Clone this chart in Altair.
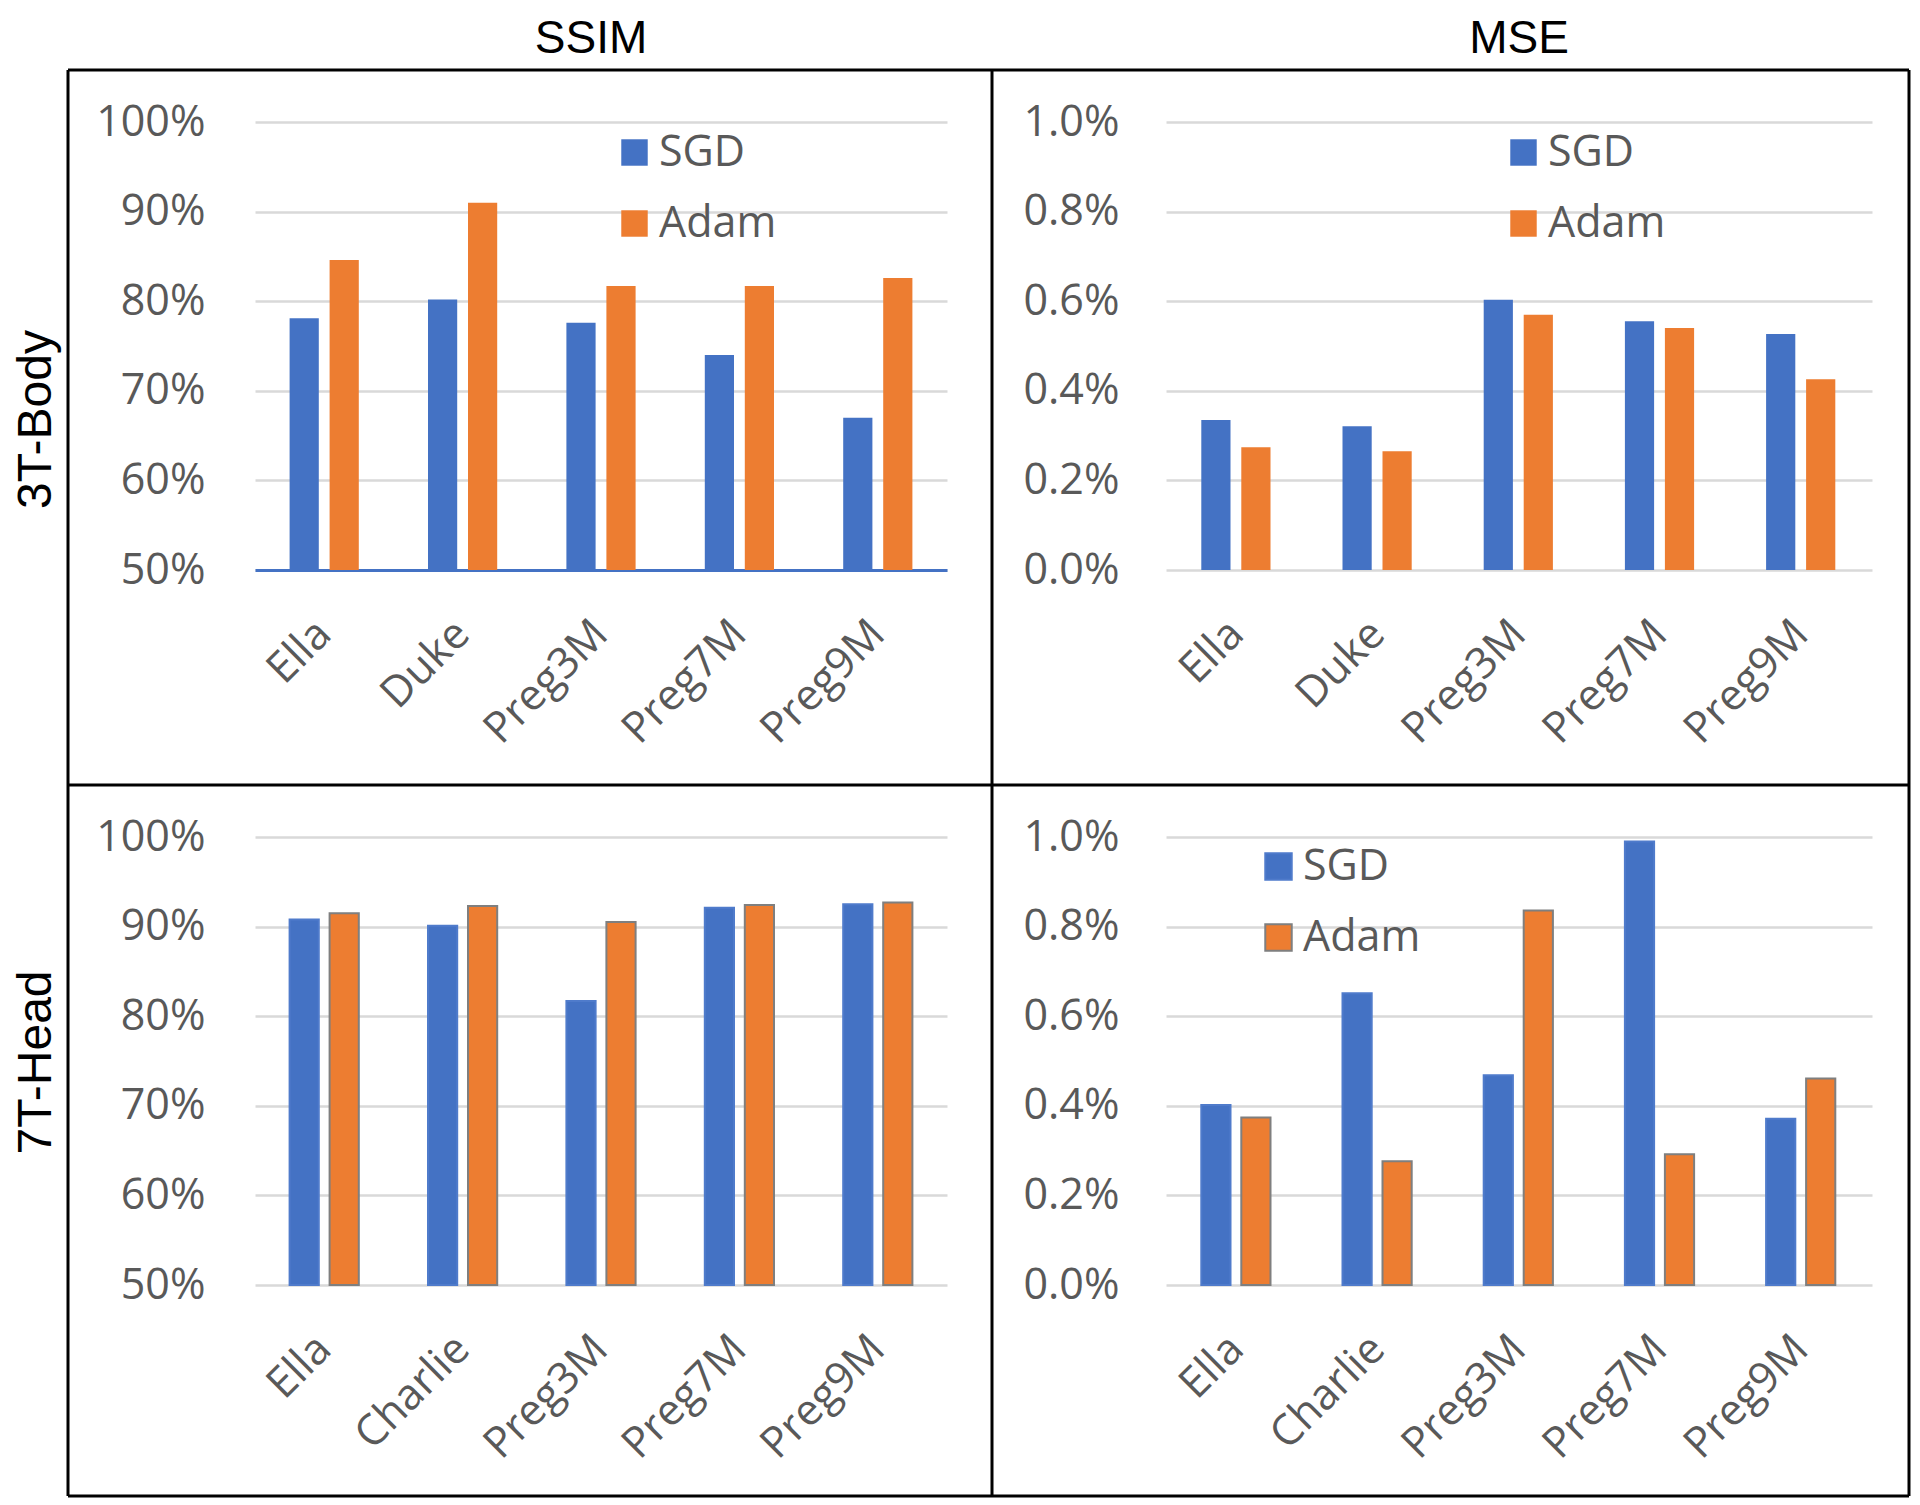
import altair as alt
import pandas as pd

# ---------------- data ----------------
optimizers = ["SGD", "Adam"]
body_subjects = ["Ella", "Duke", "Preg3M", "Preg7M", "Preg9M"]
head_subjects = ["Ella", "Charlie", "Preg3M", "Preg7M", "Preg9M"]

body_ssim_sgd = [0.781, 0.802, 0.776, 0.740, 0.670]
body_ssim_adam = [0.846, 0.910, 0.817, 0.817, 0.826]
body_mse_sgd = [0.00335, 0.00321, 0.00603, 0.00555, 0.00527]
body_mse_adam = [0.00274, 0.00265, 0.00570, 0.00540, 0.00426]

head_ssim_sgd = [0.908, 0.901, 0.817, 0.921, 0.925]
head_ssim_adam = [0.915, 0.923, 0.905, 0.924, 0.927]
head_mse_sgd = [0.00402, 0.00651, 0.00468, 0.00990, 0.00371]
head_mse_adam = [0.00374, 0.00276, 0.00836, 0.00292, 0.00461]

ssim_ticks = [0.5, 0.6, 0.7, 0.8, 0.9, 1.0]
mse_ticks = [0.0, 0.002, 0.004, 0.006, 0.008, 0.010]

# ---------------- style ----------------
BLUE = "#4472C4"
ORANGE = "#ED7D31"
GRID = "#D9D9D9"
TXT = "#595959"
FONT = "Open Sans"
TFONT = "Liberation Sans"


def make_df(subjects, sgd, adam):
    rows = []
    for s, a, b in zip(subjects, sgd, adam):
        rows.append({"subject": s, "optimizer": "SGD", "value": a})
        rows.append({"subject": s, "optimizer": "Adam", "value": b})
    return pd.DataFrame(rows)


def panel(df, subjects, kind, width, ypad, inner_pad, legend_xy=None,
          outlined=False, row_title=None, row_title_y=224, col_title=None,
          col_dx=0, blue_base=False):
    if kind == "ssim":
        yscale = alt.Scale(domain=[0.5, 1.0], nice=False, zero=False)
        yvals, fmt = ssim_ticks, ".0%"
    else:
        yscale = alt.Scale(domain=[0.0, 0.01], nice=False)
        yvals, fmt = mse_ticks, ".1%"

    yaxis_kw = dict(values=yvals, format=fmt, grid=True, gridColor=GRID,
                    gridWidth=2.5, domain=False, ticks=False, tickSize=0,
                    labelFont=FONT, labelFontSize=43, labelColor=TXT,
                    labelPadding=ypad)
    if row_title:
        yaxis_kw.update(title=row_title, titleX=-219, titleY=row_title_y,
                        titleAngle=270, titleAlign="center",
                        titleBaseline="middle", titleFont=TFONT,
                        titleFontSize=48, titleColor="black",
                        titleFontWeight="normal")
    else:
        yaxis_kw.update(title=None)

    xaxis_kw = dict(title=None, labelAngle=-45, labelAlign="right",
                    labelBaseline="middle", labelPadding=57, labelOffset=0,
                    labelFont=FONT, labelFontSize=43, labelColor=TXT,
                    ticks=False, tickSize=0, grid=False, labelOverlap=False,
                    labelFlush=False, labelLimit=0, domain=blue_base)
    if blue_base:
        xaxis_kw.update(domainColor=BLUE, domainWidth=3)

    if legend_xy is not None:
        legend = alt.Legend(orient="none", legendX=legend_xy[0],
                            legendY=legend_xy[1], title=None,
                            symbolType="square", symbolSize=700,
                            labelFont=FONT, labelFontSize=43, labelColor=TXT,
                            rowPadding=27, labelOffset=3, padding=0,
                            symbolStrokeWidth=2 if outlined else 0)
    else:
        legend = None

    enc = dict(
        x=alt.X("subject:N", sort=subjects,
                scale=alt.Scale(paddingInner=0.5, paddingOuter=0.25),
                axis=alt.Axis(**xaxis_kw)),
        xOffset=alt.XOffset("optimizer:N", sort=optimizers,
                            scale=alt.Scale(paddingInner=inner_pad,
                                            paddingOuter=0)),
        y=alt.Y("value:Q", scale=yscale, axis=alt.Axis(**yaxis_kw)),
        color=alt.Color("optimizer:N", sort=optimizers,
                        scale=alt.Scale(domain=optimizers,
                                        range=[BLUE, ORANGE]),
                        legend=legend),
    )
    if kind == "ssim":
        enc["y2"] = alt.datum(0.5)
    if outlined:
        enc["stroke"] = alt.Stroke("optimizer:N", sort=optimizers,
                                   scale=alt.Scale(domain=optimizers,
                                                   range=["#4F7BCB", "#7F7F7F"]),
                                   legend=legend)
        bars = alt.Chart(df).mark_bar(strokeWidth=2).encode(**enc)
    else:
        bars = alt.Chart(df).mark_bar().encode(**enc)

    props = dict(width=width, height=448, view=alt.ViewBackground(stroke=None))
    if col_title:
        props["title"] = alt.Title(col_title, font=TFONT, fontSize=46,
                                   fontWeight="normal", color="black",
                                   anchor="middle", frame="group",
                                   baseline="alphabetic", offset=2,
                                   dx=col_dx)
    return bars, props


one = pd.DataFrame({"k": [0]})


def rule(x, x2, y, y2, color="black", w=3):
    return alt.Chart(one).mark_rule(color=color, strokeWidth=w).encode(
        x=alt.value(x), x2=alt.value(x2), y=alt.value(y), y2=alt.value(y2))


# top-left: SSIM / 3T-Body
tl_bars, tl_props = panel(make_df(body_subjects, body_ssim_sgd, body_ssim_adam),
                          body_subjects, "ssim", 692, 50, 0.27,
                          legend_xy=(358, 9), row_title="3T-Body",
                          row_title_y=297, col_title="SSIM", col_dx=-10,
                          blue_base=True)
tl = alt.layer(tl_bars).properties(**tl_props)

# top-right: MSE / 3T-Body
tr_bars, tr_props = panel(make_df(body_subjects, body_mse_sgd, body_mse_adam),
                          body_subjects, "mse", 706, 47, 0.2,
                          legend_xy=(336, 9), col_title="MSE")
tr = alt.layer(tr_bars).properties(**tr_props)

# bottom-left: SSIM / 7T-Head (also carries the table frame)
bl_bars, bl_props = panel(make_df(head_subjects, head_ssim_sgd, head_ssim_adam),
                          head_subjects, "ssim", 692, 50, 0.27,
                          outlined=True, row_title="7T-Head", row_title_y=225)
frame = [
    rule(-187, 1654, -767, -767),   # outer top
    rule(-187, 1654, 659, 659),     # outer bottom
    rule(-187, -187, -767, 659),    # outer left
    rule(1654, 1654, -767, 659),    # outer right
    rule(737, 737, -767, 659),      # vertical divider
    rule(-187, 1654, -52, -52),     # horizontal divider
    rule(-246, -240, -828, -828, color="white", w=1),  # layout anchor
]
bl = alt.layer(bl_bars, *frame).properties(**bl_props)

# bottom-right: MSE / 7T-Head
br_bars, br_props = panel(make_df(head_subjects, head_mse_sgd, head_mse_adam),
                          head_subjects, "mse", 706, 47, 0.2,
                          legend_xy=(91, 8), outlined=True)
br = alt.layer(br_bars).properties(**br_props)

chart = alt.concat(
    tl, tr, bl, br, columns=2, bounds="flush",
    spacing=alt.RowColnumber(row=267, column=219),
).resolve_scale(
    color="independent", stroke="independent"
).resolve_legend(
    color="independent", stroke="independent"
).properties(padding=0).configure_view(
    stroke=None, strokeWidth=0
).configure(background="white")

chart.save("out.html", embed_options={"renderer": "svg", "actions": False})
